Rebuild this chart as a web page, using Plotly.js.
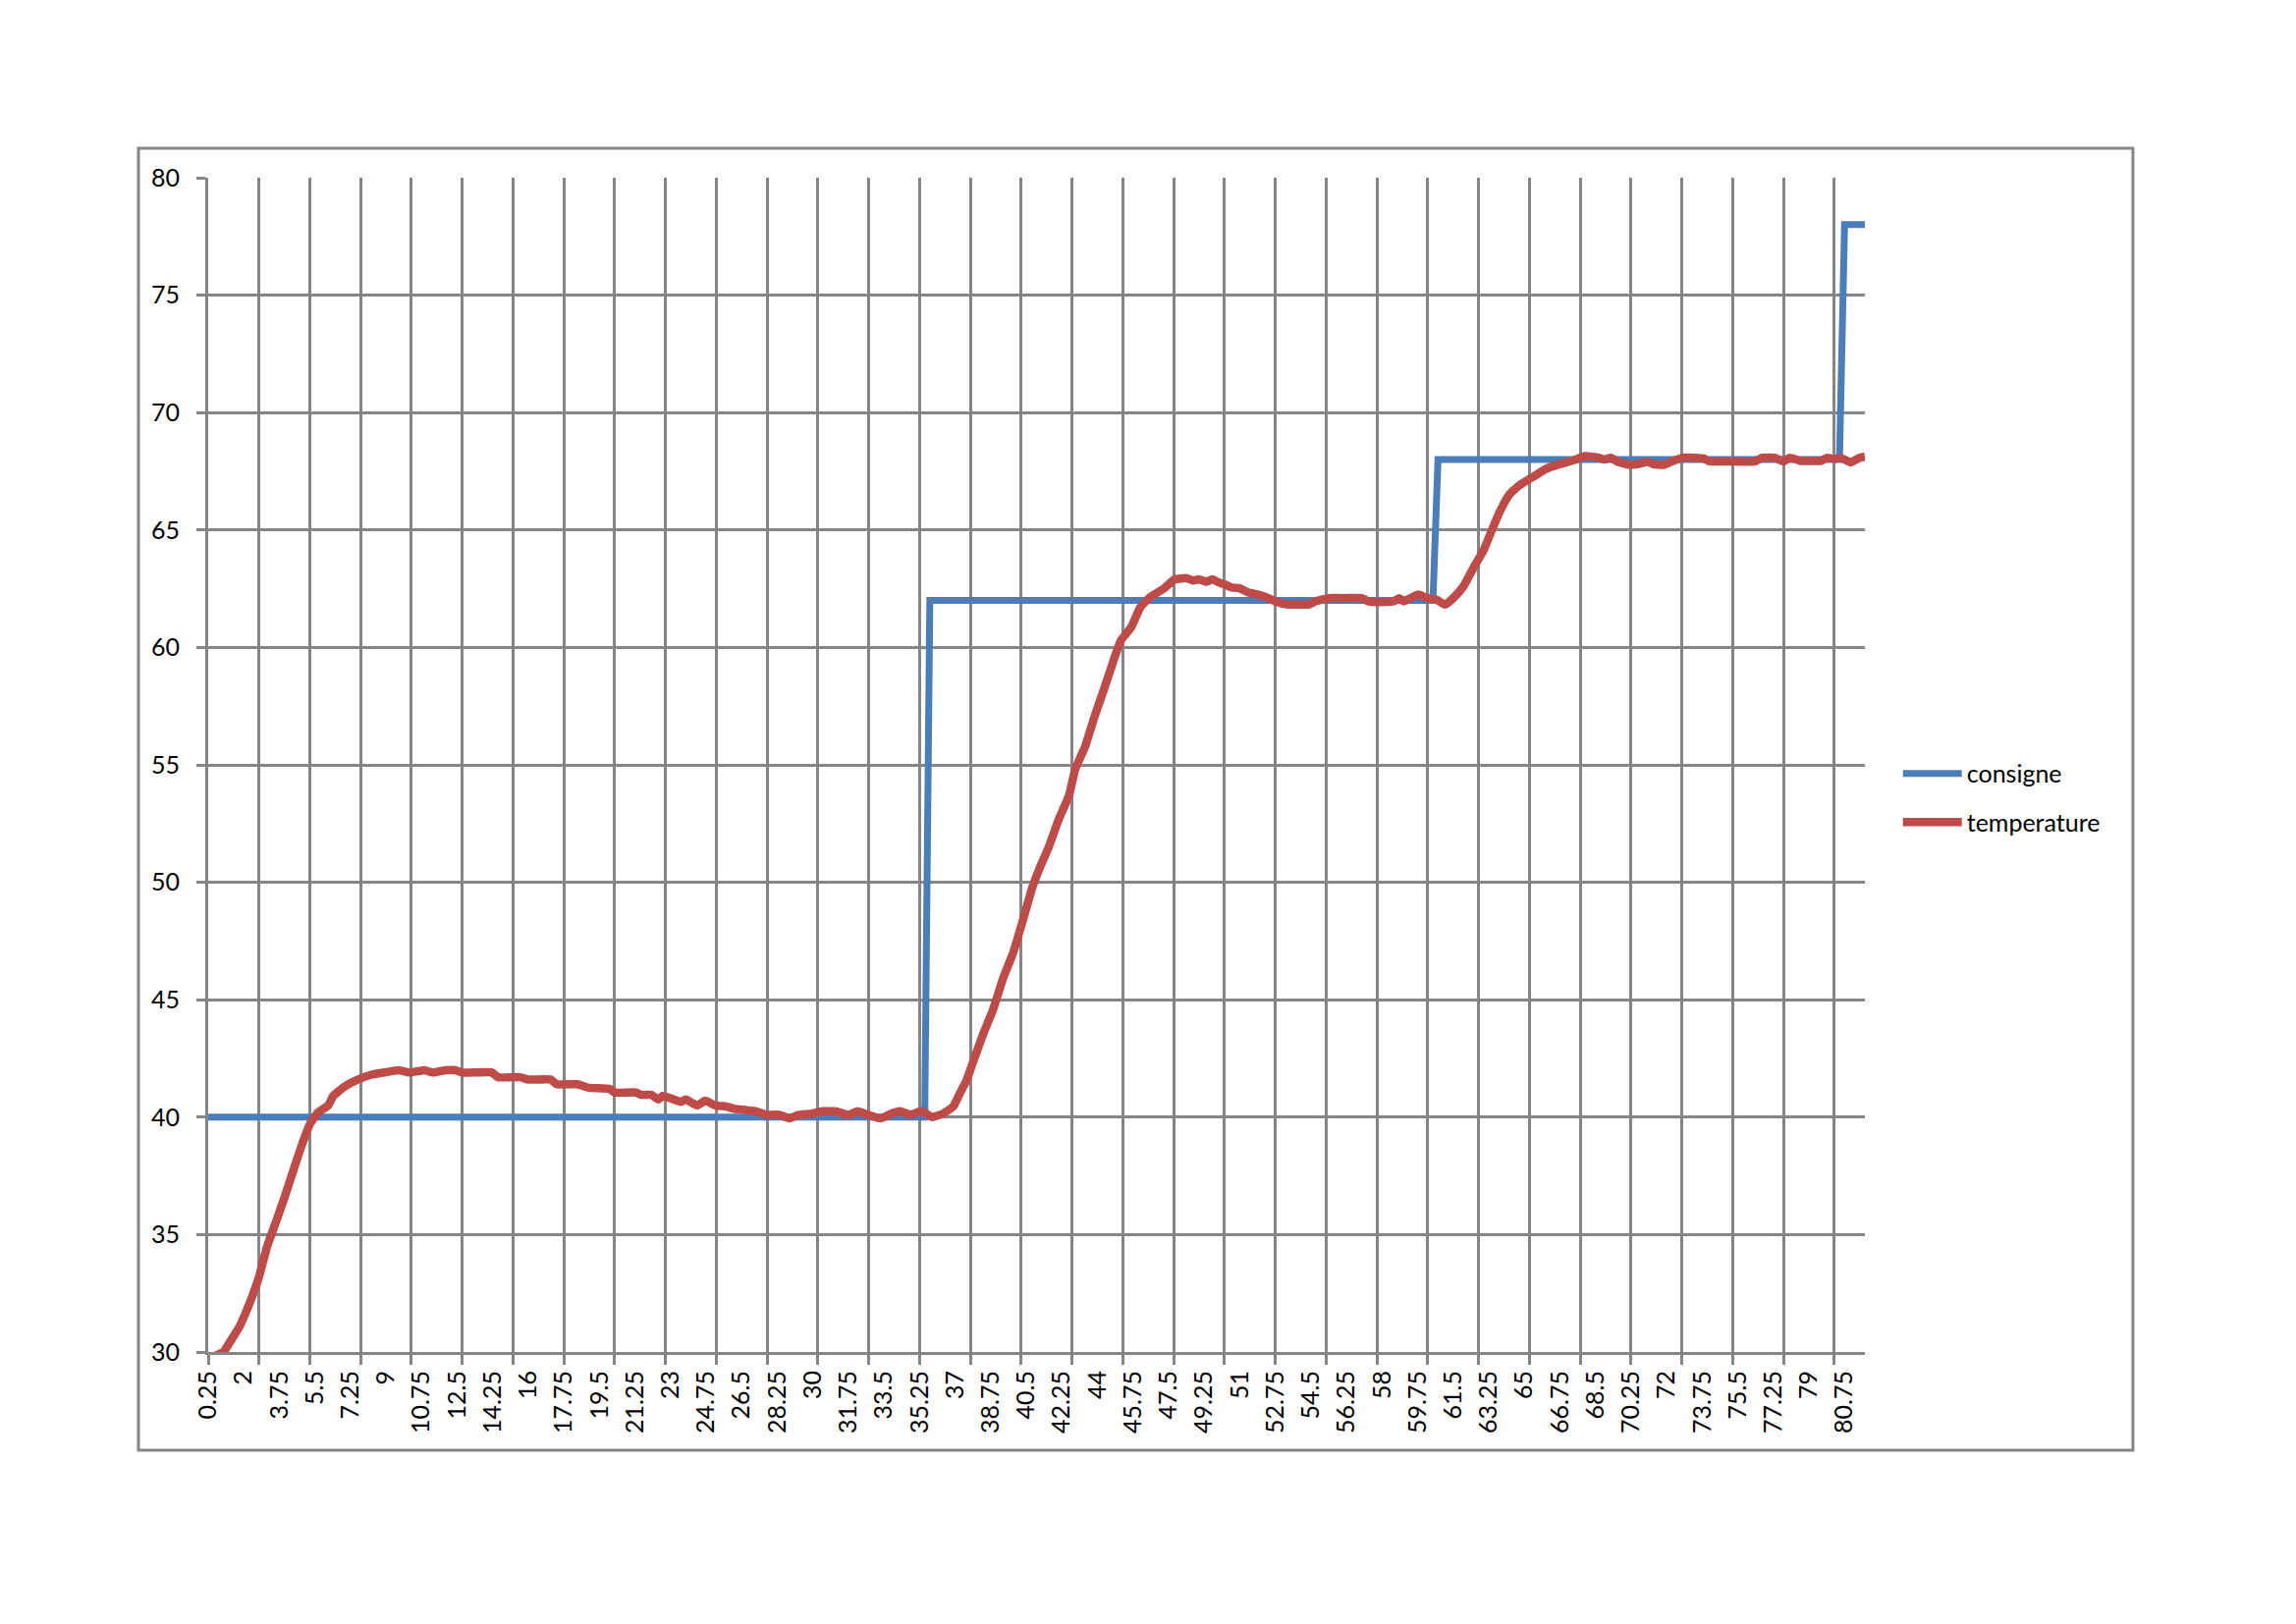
<!DOCTYPE html>
<html>
<head>
<meta charset="utf-8">
<script src="https://cdn.plot.ly/plotly-3.0.1.min.js"></script>
<style>
	html, body { margin: 0; padding: 0; background: #ffffff; }
	#chart { width: 2338px; height: 1654px; }
</style>
</head>
<body>
<div id="chart"></div>
<script>
// Setpoint (consigne) steps, time / value
const consigneTime = [0.25, 35.5, 35.75, 60.5, 60.75, 80.5, 80.75, 81.75];
const consigneValues = [40, 40, 62, 62, 68, 68, 78, 78];

const temperatureTime = [
	0.25, 0.5, 1.0, 1.3, 1.8, 2.25, 2.75, 3.15, 3.65, 4.05, 4.35, 4.85, 5.25, 5.65, 6.15, 6.4, 6.95,
	7.6, 8.25, 8.9, 9.6, 10.15, 10.9, 11.3, 11.95, 12.4, 12.75, 14.2, 14.5, 15.6, 16.0, 17.1, 17.4,
	18.4, 19.0, 20.0, 20.25, 21.3, 21.55, 22.05, 22.4, 22.6, 23.0, 23.5, 23.75, 24.3, 24.7, 25.2,
	25.75, 26.15, 26.75, 27.2, 27.7, 28.35, 28.85, 29.3, 29.95, 30.45, 31.1, 31.75, 32.2, 32.7,
	33.35, 33.85, 34.3, 34.8, 35.3, 35.5, 35.85, 36.4, 36.9, 37.25, 37.55, 37.9, 38.4, 38.85, 39.35,
	39.85, 40.3, 40.8, 41.2, 41.6, 42.1, 42.6, 42.9, 43.4, 43.85, 44.35, 44.85, 45.15, 45.65, 46.1,
	46.6, 47.25, 47.8, 48.35, 48.7, 49.0, 49.35, 49.65, 49.95, 50.3, 50.6, 50.95, 51.4, 51.9, 52.4,
	52.85, 53.3, 53.95, 54.4, 54.75, 55.4, 56.2, 57.0, 57.3, 57.95, 58.6, 58.85, 59.05, 59.4, 59.8,
	60.2, 60.7, 61.1, 61.5, 62.0, 62.5, 63.0, 63.45, 63.8, 64.25, 64.75, 65.4, 66.05, 66.7, 67.35,
	68.0, 68.65, 68.95, 69.25, 69.6, 70.1, 70.55, 71.05, 71.35, 71.85, 72.35, 72.8, 73.8, 74.1,
	75.1, 76.35, 76.7, 77.3, 77.75, 78.05, 78.55, 79.6, 79.9, 80.25, 80.55, 81.05, 81.5, 81.75
];
const temperatureValues = [
	29.6, 29.8, 30.0, 30.4, 31.1, 32.0, 33.2, 34.5, 35.7, 36.7, 37.5, 38.8, 39.7, 40.2, 40.5, 40.9, 41.3,
	41.6, 41.8, 41.9, 42.0, 41.9, 42.0, 41.9, 42.0, 42.0, 41.9, 41.9, 41.7, 41.7, 41.6, 41.6, 41.4,
	41.4, 41.25, 41.2, 41.05, 41.05, 40.95, 40.95, 40.75, 40.9, 40.8, 40.65, 40.75, 40.5, 40.7, 40.5,
	40.45, 40.35, 40.3, 40.25, 40.1, 40.1, 39.95, 40.1, 40.15, 40.25, 40.25, 40.1, 40.25, 40.1,
	39.95, 40.15, 40.25, 40.1, 40.25, 40.2, 40.0, 40.15, 40.45, 41.05, 41.55, 42.4, 43.6, 44.55, 45.9,
	47.0, 48.3, 49.8, 50.7, 51.5, 52.7, 53.7, 54.8, 55.8, 57.05, 58.3, 59.6, 60.3, 60.85, 61.7,
	62.15, 62.5, 62.9, 62.95, 62.85, 62.9, 62.8, 62.9, 62.77, 62.67, 62.55, 62.53, 62.35, 62.25, 62.1,
	61.93, 61.83, 61.83, 61.83, 61.97, 62.1, 62.1, 62.1, 61.97, 61.93, 61.97, 62.1, 61.97, 62.1, 62.25,
	62.1, 62.02, 61.82, 62.1, 62.6, 63.4, 64.15, 65.1, 65.8, 66.5, 66.9, 67.25, 67.6, 67.8, 67.95,
	68.15, 68.08, 68.0, 68.08, 67.9, 67.78, 67.8, 67.9, 67.8, 67.77, 67.95, 68.08, 68.05, 67.92,
	67.92, 67.92, 68.08, 68.08, 67.92, 68.08, 67.95, 67.95, 68.08, 68.02, 68.08, 67.88, 68.08, 68.12
];

// Category labels shown under the x axis (every 7th sample)
const xTickLabels = [
	0.25, 2, 3.75, 5.5, 7.25, 9, 10.75, 12.5, 14.25, 16, 17.75, 19.5, 21.25, 23, 24.75, 26.5,
	28.25, 30, 31.75, 33.5, 35.25, 37, 38.75, 40.5, 42.25, 44, 45.75, 47.5, 49.25, 51, 52.75,
	54.5, 56.25, 58, 59.75, 61.5, 63.25, 65, 66.75, 68.5, 70.25, 72, 73.75, 75.5, 77.25, 79, 80.75
];

const GRID = "#868686";
const FONT = "Lato, 'Open Sans', sans-serif";

function renderChart() {
	const traces = [
		{
			name: "consigne",
			x: consigneTime,
			y: consigneValues,
			mode: "lines",
			legendgroup: "a",
			line: { color: "#4A7EBB", width: 7 },
		},
		{
			name: "temperature",
			x: temperatureTime,
			y: temperatureValues,
			mode: "lines",
			legendgroup: "b",
			line: { color: "#BE4B48", width: 8.5, shape: "spline", smoothing: 0.4 },
		},
	];

	const layout = {
		width: 2338,
		height: 1654,
		paper_bgcolor: "#ffffff",
		plot_bgcolor: "#ffffff",
		margin: { l: 212, r: 439, t: 181, b: 277, pad: 0 },
		font: { family: FONT, size: 24, color: "#000000" },
		xaxis: {
			range: [0.25, 81.75],
			tickmode: "array",
			tickvals: xTickLabels,
			ticktext: xTickLabels.map(String),
			tickangle: -90,
			ticks: "",
			ticklabelstandoff: 6,
			showgrid: false,
			zeroline: false,
			showline: true,
			linecolor: GRID,
			linewidth: 3,
			tickfont: { family: FONT, size: 25 },
			minor: {
				tick0: 0.25,
				dtick: 2.5,
				ticks: "outside",
				ticklen: 10,
				tickwidth: 3,
				tickcolor: GRID,
				showgrid: true,
				gridcolor: GRID,
				gridwidth: 3,
			},
		},
		yaxis: {
			range: [30, 80],
			dtick: 5,
			tick0: 30,
			ticks: "outside",
			ticklen: 9,
			tickwidth: 3,
			tickcolor: GRID,
			ticklabelstandoff: 12,
			showgrid: true,
			gridcolor: GRID,
			gridwidth: 3,
			zeroline: false,
			showline: true,
			linecolor: GRID,
			linewidth: 3,
			tickfont: { family: FONT, size: 25 },
		},
		showlegend: true,
		legend: {
			x: 1.02,
			xanchor: "left",
			y: 0.472,
			yanchor: "middle",
			tracegroupgap: 14,
			itemwidth: 60,
			font: { family: FONT, size: 25, color: "#000000" },
			bgcolor: "rgba(0,0,0,0)",
		},
		shapes: [
			{
				type: "rect",
				xref: "paper",
				yref: "paper",
				x0: -0.0421,
				x1: 1.1618,
				y0: -0.0836,
				y1: 1.0251,
				line: { color: GRID, width: 3 },
				layer: "below",
			},
		],
	};

	Plotly.newPlot("chart", traces, layout, { staticPlot: true, displayModeBar: false });
}

renderChart();
</script>
</body>
</html>
